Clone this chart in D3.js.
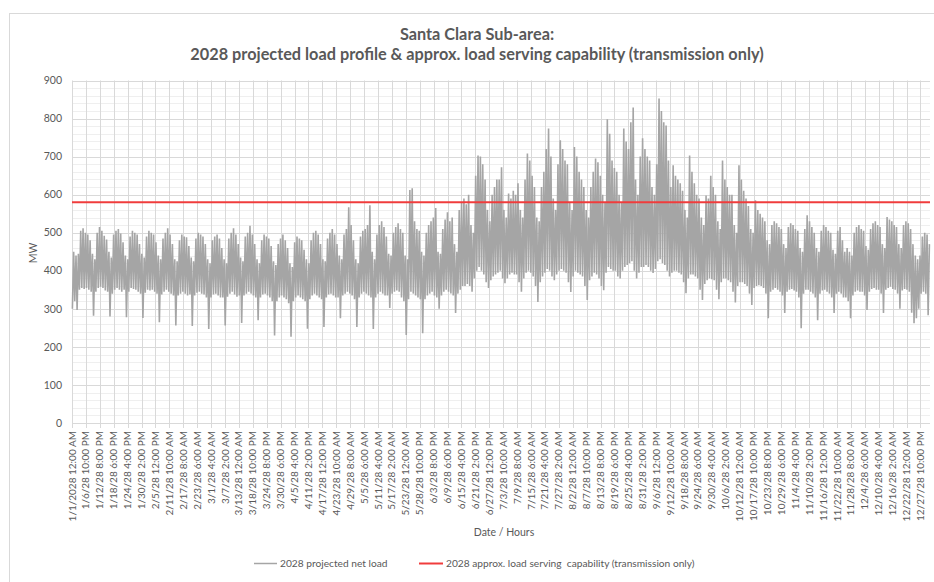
<!DOCTYPE html>
<html><head><meta charset="utf-8">
<script src="https://cdn.jsdelivr.net/npm/d3@7"></script>
<style>
html,body{margin:0;padding:0;background:#fff;}
svg{display:block;font-family:Lato,"Liberation Sans",sans-serif;}
</style></head>
<body><svg id="c" width="934" height="582"></svg>
<script>
const titleLines = ["Santa Clara Sub-area:", "2028 projected load profile & approx. load serving capability (transmission only)"];
const seriesNames = ["2028 projected net load", "2028 approx. load serving  capability (transmission only)"];
const capability = 580;
const yTicks = [0,100,200,300,400,500,600,700,800,900];
const hoursPerYear = 8760;
const labelStep = 142;
const xTickLabels = ["1/1/2028 12:00 AM","1/6/28 10:00 PM","1/12/28 8:00 PM","1/18/28 6:00 PM","1/24/28 4:00 PM","1/30/28 2:00 PM","2/5/28 12:00 PM","2/11/28 10:00 AM","2/17/28 8:00 AM","2/23/28 6:00 AM","3/1/28 4:00 AM","3/7/28 2:00 AM","3/13/28 12:00 AM","3/18/28 10:00 PM","3/24/28 8:00 PM","3/30/28 6:00 PM","4/5/28 4:00 PM","4/11/28 2:00 PM","4/17/28 12:00 PM","4/23/28 10:00 AM","4/29/28 8:00 AM","5/5/28 6:00 AM","5/11/28 4:00 AM","5/17/28 2:00 AM","5/23/28 12:00 AM","5/28/28 10:00 PM","6/3/28 8:00 PM","6/9/28 6:00 PM","6/15/28 4:00 PM","6/21/28 2:00 PM","6/27/28 12:00 PM","7/3/28 10:00 AM","7/9/28 8:00 AM","7/15/28 6:00 AM","7/21/28 4:00 AM","7/27/28 2:00 AM","8/2/28 12:00 AM","8/7/28 10:00 PM","8/13/28 8:00 PM","8/19/28 6:00 PM","8/25/28 4:00 PM","8/31/28 2:00 PM","9/6/28 12:00 PM","9/12/28 10:00 AM","9/18/28 8:00 AM","9/24/28 6:00 AM","9/30/28 4:00 AM","10/6/28 2:00 AM","10/12/28 12:00 AM","10/17/28 10:00 PM","10/23/28 8:00 PM","10/29/28 6:00 PM","11/4/28 4:00 PM","11/10/28 2:00 PM","11/16/28 12:00 PM","11/22/28 10:00 AM","11/28/28 8:00 AM","12/4/28 6:00 AM","12/10/28 4:00 AM","12/16/28 2:00 AM","12/22/28 12:00 AM","12/27/28 10:00 PM"];

// daily minimum and maximum of the hourly net load (MW), one row per week
const dailyMin = [
300,320,297,350,355,352,355, 350,345,282,345,355,358,355, 348,345,280,340,350,355,350, 345,350,278,345,355,352,350,
345,340,276,342,350,348,350, 345,340,265,338,345,350,345, 340,335,256,335,340,345,340, 335,338,255,335,342,345,340,
338,330,247,330,338,340,335, 330,330,256,332,340,345,338, 332,335,263,335,340,345,340, 335,330,270,330,338,340,335,
330,320,230,320,330,335,330, 325,315,227,320,330,335,330, 325,320,248,325,335,340,335, 330,325,252,330,338,340,335,
330,330,275,335,340,345,340, 335,325,252,330,340,345,340, 335,330,247,330,340,345,340, 335,335,302,340,345,348,345,
330,320,231,325,345,340,335, 330,325,236,325,335,340,345, 335,330,300,335,345,350,345, 340,335,289,340,350,360,360,
365,360,345,380,400,410,400, 390,370,355,375,385,390,395, 400,380,367,380,390,395,390, 390,370,345,380,395,400,395,
385,360,318,370,385,395,405, 400,385,375,390,400,405,400, 395,370,344,385,400,395,390, 385,360,323,375,385,395,390,
380,360,349,395,410,405,400, 400,385,380,400,410,415,420, 425,400,380,395,410,410,415, 410,400,394,405,425,430,420,
415,400,385,395,400,400,395, 390,370,341,380,390,390,385, 380,350,323,365,375,380,378, 375,350,325,370,380,380,375,
370,345,317,360,370,370,365, 360,340,310,355,360,362,360, 355,340,275,345,350,355,350, 345,335,289,345,350,352,348,
345,330,249,340,350,350,345, 340,330,270,340,348,350,345, 340,330,289,340,345,340,330, 330,320,275,335,345,348,345,
345,335,297,345,352,355,350, 350,340,289,350,355,358,352, 350,340,300,348,352,350,345, 290,262,275,300,340,345,340,
283];
const dailyMax = [
450,440,445,505,512,500,495, 480,445,430,500,515,505,492, 482,450,435,495,505,510,498, 475,440,430,490,505,500,495,
470,445,435,490,505,500,495, 475,440,430,485,500,512,495, 470,430,425,480,495,490,488, 465,435,425,485,500,495,490,
470,430,420,480,490,495,485, 460,430,420,485,500,512,495, 470,435,425,490,500,518,495, 470,430,420,480,495,490,485,
465,425,415,470,485,495,480, 460,420,410,475,490,485,480, 455,430,420,480,500,505,495, 470,430,425,485,500,510,495,
470,440,430,495,510,567,520, 480,430,420,490,505,510,520, 572,450,430,495,520,530,515, 490,445,440,500,515,525,510,
500,440,430,612,617,530,510, 505,450,440,500,520,530,540, 565,450,445,510,535,554,530, 540,470,450,560,580,590,575,
600,520,500,650,703,700,680, 640,560,530,600,620,640,640, 672,560,540,603,590,610,600, 630,560,540,640,708,690,650,
620,540,530,620,660,720,774, 700,590,560,680,743,720,690, 680,580,560,725,700,660,640, 620,560,540,620,660,695,685,
650,600,580,798,760,690,670, 660,600,580,774,740,720,790, 829,640,600,700,748,720,700, 690,620,600,680,853,820,790,
782,690,620,677,650,640,630, 610,560,540,703,660,630,600, 590,540,520,598,590,650,620, 600,530,510,690,640,620,600,
600,520,500,677,640,610,590, 570,510,500,585,560,550,540, 530,480,470,520,530,525,515, 510,470,460,515,525,520,510,
505,460,450,510,546,530,515, 500,460,450,505,520,515,505, 500,455,445,505,515,480,450, 460,450,440,500,515,520,510,
505,465,455,510,525,530,520, 515,470,460,541,535,530,520, 515,470,460,520,530,525,510, 470,440,430,440,490,500,495,
470];
const minHour = 4, maxHour = 17;

const svg = d3.select("#c");
const L = 72, R = 930, T = 80.5, B = 423;
const x = d3.scaleLinear().domain([0, hoursPerYear - 1]).range([L, R]);
const y = d3.scaleLinear().domain([0, 900]).range([B, T]);
const grey = "#595959";

// outer frame
svg.append("rect").attr("x", 9.5).attr("y", 13.5).attr("width", 940).attr("height", 600)
  .attr("fill", "none").attr("stroke", "#d9d9d9");

// title
svg.append("g").selectAll("text").data(titleLines).join("text")
  .attr("x", 477).attr("y", (d, i) => 40 + i * 20)
  .attr("text-anchor", "middle").attr("fill", grey)
  .attr("font-size", 16.3).attr("font-weight", 700).text(d => d);

// minor horizontal gridlines
const minor = d3.range(0, 901, 20).filter(v => v % 100 !== 0);
svg.append("g").selectAll("line").data(minor).join("line")
  .attr("x1", L).attr("x2", R).attr("y1", d => Math.round(y(d)) + 0.5).attr("y2", d => Math.round(y(d)) + 0.5)
  .attr("stroke", "#efefef").attr("stroke-width", 1);

// vertical gridlines at category labels
const tickIdx = xTickLabels.map((_, i) => i * labelStep);
svg.append("g").selectAll("line").data(tickIdx).join("line")
  .attr("x1", d => Math.round(x(d)) + 0.5).attr("x2", d => Math.round(x(d)) + 0.5)
  .attr("y1", T).attr("y2", B + 5)
  .attr("stroke", "#d9d9d9").attr("stroke-width", 1);

// major horizontal gridlines
svg.append("g").selectAll("line").data(yTicks).join("line")
  .attr("x1", L).attr("x2", R).attr("y1", d => Math.round(y(d)) + 0.5).attr("y2", d => Math.round(y(d)) + 0.5)
  .attr("stroke", "#d9d9d9").attr("stroke-width", 1);

// y tick labels
svg.append("g").selectAll("text").data(yTicks).join("text")
  .attr("x", 62).attr("y", d => y(d)).attr("dy", "0.35em")
  .attr("text-anchor", "end").attr("fill", grey).attr("font-size", 10.5).text(d => d);

// x tick labels
svg.append("g").selectAll("text").data(xTickLabels).join("text")
  .attr("transform", (d, i) => `translate(${x(i * labelStep)},${B + 8}) rotate(-90)`)
  .attr("dy", "0.35em").attr("text-anchor", "end")
  .attr("fill", grey).attr("font-size", 10).text(d => d);

// axis titles
svg.append("text").attr("transform", `translate(37,253) rotate(-90)`)
  .attr("text-anchor", "middle").attr("fill", grey).attr("font-size", 10.5).text("MW");
svg.append("text").attr("x", 504).attr("y", 536)
  .attr("text-anchor", "middle").attr("fill", grey).attr("font-size", 10.5).text("Date / Hours");

// load series
const pts = [];
dailyMin.forEach((mn, d) => {
  pts.push([d * 24 + minHour, mn]);
  pts.push([d * 24 + maxHour, dailyMax[d]]);
});
svg.append("path").datum(pts)
  .attr("d", d3.line().x(p => x(p[0])).y(p => y(p[1])))
  .attr("fill", "none").attr("stroke", "#a5a5a5").attr("stroke-width", 1.6)
  .attr("stroke-linejoin", "miter").attr("stroke-miterlimit", 2);

// capability line
svg.append("line").attr("x1", L).attr("x2", R).attr("y1", y(capability)).attr("y2", y(capability))
  .attr("stroke", "#f03c3c").attr("stroke-width", 2);

// legend
const leg = svg.append("g").attr("font-size", 10.2).attr("fill", grey);
leg.append("line").attr("x1", 254).attr("x2", 277).attr("y1", 563.5).attr("y2", 563.5).attr("stroke", "#a5a5a5").attr("stroke-width", 1.5);
leg.append("text").attr("x", 280).attr("y", 563).attr("dy", "0.35em").text(seriesNames[0]);
leg.append("line").attr("x1", 419).attr("x2", 443).attr("y1", 563.5).attr("y2", 563.5).attr("stroke", "#f03c3c").attr("stroke-width", 2);
leg.append("text").attr("x", 446).attr("y", 563).attr("dy", "0.35em").style("white-space", "pre").text(seriesNames[1]);
</script></body></html>
